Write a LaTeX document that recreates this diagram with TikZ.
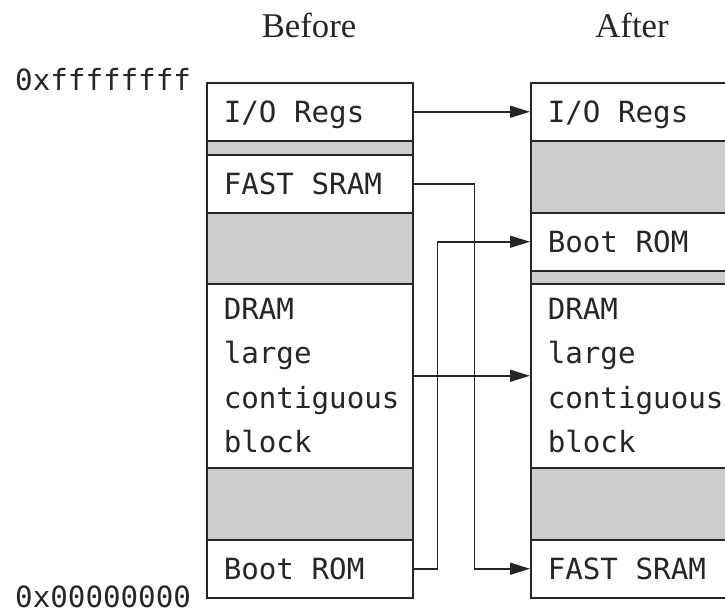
\documentclass[tikz,border=0pt]{standalone}
\usepackage{fontspec}
\setmainfont{Liberation Serif}
\newfontfamily\monofnt{DejaVu Sans Mono}
\newcommand{\monosp}{\hspace*{0.602em}}
\usetikzlibrary{arrows.meta}
\definecolor{cellgray}{HTML}{CCCCCC}
\begin{document}
\begin{tikzpicture}[x=1pt,y=-1pt,
  cell/.style={draw=black!85, line width=1.5pt, rectangle, anchor=north west,
    minimum width=206pt, inner xsep=17pt, inner ysep=0pt, text width=172pt, align=left,
    font=\monofnt\fontsize{29.2}{44.5}\selectfont, text=black!85},
  txtcell/.style={cell, fill=white, minimum height=#1, text height=21.2pt, text depth=0pt},
  graycell/.style={cell, fill=cellgray, minimum height=#1},
  conn/.style={draw=black!85, line width=1.5pt, -{Triangle[length=20pt,width=12pt]}},
  addr/.style={anchor=base west, inner sep=0pt, font=\monofnt\fontsize{29.2}{34}\selectfont, text=black!85},
  head/.style={anchor=base, inner sep=0pt, font=\fontsize{34.7}{40}\selectfont, text=black!85}]
\clip (0,0) rectangle (725,613);
% headings
\node[head] (before) at (309,37) {Before};
\node[head] (after) at (632,37) {After};
\node[addr] (hi) at (15,90) {0xffffffff};
\node[addr] (lo) at (15,607) {0x00000000};
% left column
\node[txtcell=58pt] (lio) at (206,82) {I/O\monosp Regs};
\node[graycell=14pt] (lg1) at (206,140) {};
\node[txtcell=58pt] (lfast) at (206,154) {FAST\monosp SRAM};
\node[graycell=71pt] (lg2) at (206,212) {};
\node[cell, fill=white, minimum height=184pt] (ldram) at (206,283) {DRAM\\large\\contiguous\\block};
\node[graycell=72pt] (lg3) at (206,467) {};
\node[txtcell=58pt] (lboot) at (206,539) {Boot\monosp ROM};
% right column
\node[txtcell=58pt] (rio) at (530,82) {I/O\monosp Regs};
\node[graycell=72pt] (rg1) at (530,140) {};
\node[txtcell=58pt] (rboot) at (530,212) {Boot\monosp ROM};
\node[graycell=13pt] (rg2) at (530,270) {};
\node[cell, fill=white, minimum height=184pt] (rdram) at (530,283) {DRAM\\large\\contiguous\\block};
\node[graycell=72pt] (rg3) at (530,467) {};
\node[txtcell=58pt] (rfast) at (530,539) {FAST\monosp SRAM};
% connectors
\draw[conn] (lio.east) -- (rio.west);
\draw[conn] (lfast.east) -- ++(61,0) |- (rfast.west);
\draw[conn] (lboot.east) -- ++(24,0) |- (rboot.west);
\draw[conn] (ldram.east) -- (rdram.west);
\end{tikzpicture}
\end{document}
